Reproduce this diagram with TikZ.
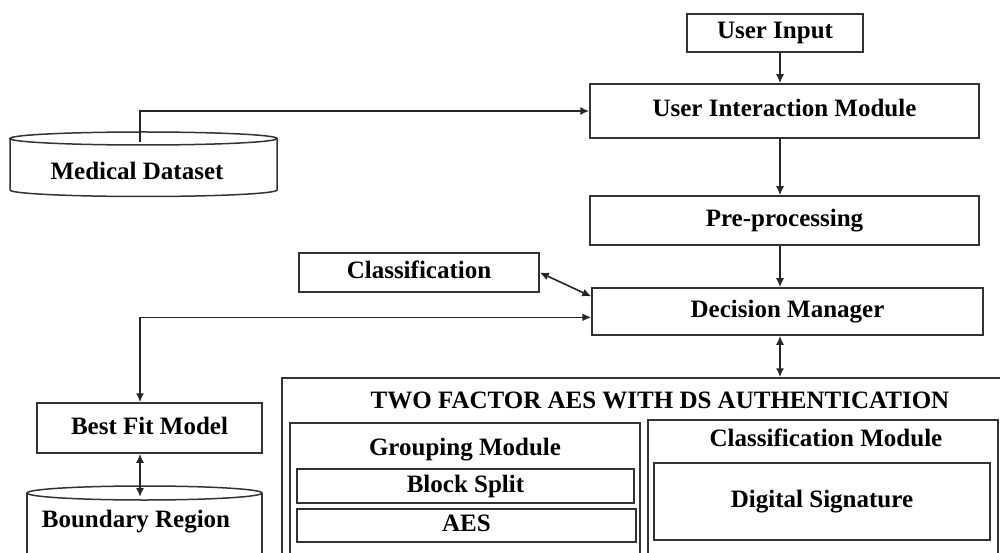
\documentclass[tikz,border=0pt]{standalone}
\usepackage{fontspec}
\setmainfont{Liberation Serif}
\usetikzlibrary{shapes, arrows.meta, positioning, calc}
\tikzstyle{box} = [rectangle, draw = black!80, line width = 1.5, text centered,
  inner sep = 0, text height = 17, text depth = 5,
  font = \bfseries\fontsize{25}{28}\selectfont]
\tikzstyle{frame} = [rectangle, draw = black!80, line width = 1.5, inner sep = 0]
\tikzstyle{caption} = [
  inner sep = 0, text height = 17, text depth = 5,
  font = \bfseries\fontsize{25}{28}\selectfont
]
\tikzstyle{rim} = [draw = black!80, line width = 1.5]
\tikzstyle{link} = [draw = black!85, line width = 1.6]

\begin{document}
\begin{tikzpicture}[x = 1pt, y = 1pt, node distance = 0,
    > = {Latex[length = 9pt, width = 8pt]}]
      \useasboundingbox (0, 0) rectangle (1000, 552);
      \clip (0, 0) rectangle (1000, 552);
      % main column
      \node [box, minimum width = 176, minimum height = 38] (userin) at (775, 519) {User Input};
      \node [box, minimum width = 389, minimum height = 54] (uim) at (784.5, 441) {User Interaction Module};
      \node [box, minimum width = 389, minimum height = 49, below of = uim, yshift = -109.5] (pre) {Pre-processing};
      \node [box, minimum width = 391, minimum height = 47, below of = pre, yshift = -91, xshift = 3] (dm) {Decision Manager};
      \node [box, minimum width = 240, minimum height = 39] (class) at (419, 279.5) {Classification};
      % medical store
      \draw [rim] (10, 413.5) -- (10, 362) arc [start angle = 180, end angle = 360,
        x radius = 133.5, y radius = 6.5] -- (277, 413.5);
      \draw [rim] (143.5, 413.5) ellipse [x radius = 133.5, y radius = 6.5];
      \node [caption] (medical) at (137, 378) {Medical Dataset};
      % best fit and boundary store
      \node [box, minimum width = 225, minimum height = 50] (bestfit) at (149.5, 124) {Best Fit Model};
      \draw [rim] (27, -20) -- (27, 59);
      \draw [rim] (262, -20) -- (262, 59);
      \draw [rim] (144.5, 59) ellipse [x radius = 117.5, y radius = 7];
      \node [caption] (boundary) at (136, 31) {Boundary Region};
      % two factor block
      \node [frame, minimum width = 730, minimum height = 184] (outer) at (647, 82) {};
      \node [caption] (outertitle) at (660, 150) {TWO FACTOR AES WITH DS AUTHENTICATION};
      \node [frame, minimum width = 350, minimum height = 134] (group) at (465, 62) {};
      \node [caption] (grouptitle) at (465, 103) {Grouping Module};
      \node [box, minimum width = 337, minimum height = 34] (split) at (465.5, 66) {Block Split};
      \node [box, minimum width = 339, minimum height = 33] (aes) at (466.5, 26.5) {AES};
      \node [frame, minimum width = 350, minimum height = 137] (classmod) at (823, 63.5) {};
      \node [caption] (classtitle) at (826, 112) {Classification Module};
      \node [box, minimum width = 336, minimum height = 77] (digsig) at (822, 50.5) {Digital Signature};

      \coordinate (spine) at (780, 0);
      \coordinate (medtop) at (140, 410);
      \coordinate (brtop) at (140, 55);
      \draw [link, ->] (userin.south -| spine) -- (uim.north -| spine);
      \draw [link, ->] (uim.south -| spine) -- (pre.north -| spine);
      \draw [link, ->] (pre.south -| spine) -- (dm.north -| spine);
      \draw [link, <->] (dm.south -| spine) -- (outer.north -| spine);
      \draw [link, ->] (medtop) |- (uim.west);
      \draw [link, <->] (class.east) -- ($(dm.north west)!0.19!(dm.south west)$);
      \draw [link, <->] (bestfit.north -| medtop) |- ($(dm.north west)!0.62!(dm.south west)$);
      \draw [link, <->] (bestfit.south -| medtop) -- (brtop);
    \end{tikzpicture}
\end{document}
